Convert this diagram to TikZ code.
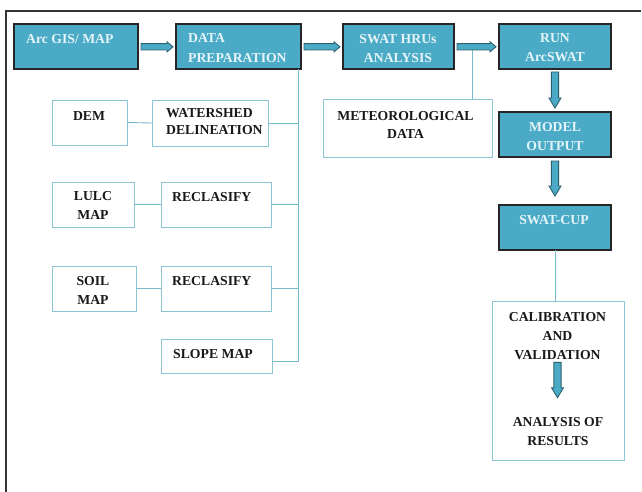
\documentclass[tikz,border=0pt]{standalone}
\usepackage{fontspec}
\setmainfont{Liberation Serif}
\usetikzlibrary{calc}
\definecolor{tealfill}{HTML}{4BABC6}
\definecolor{tealtext}{HTML}{E4F4F8}
\definecolor{boxline}{HTML}{8CC6D4}
\definecolor{connline}{HTML}{76BACB}
\definecolor{arrline}{HTML}{2E5F6E}
\definecolor{framecol}{HTML}{333333}
\tikzset{
  fbox/.style={draw=black!85, line width=1.2pt, fill=tealfill, inner sep=0pt, outer sep=0pt},
  wbox/.style={draw=boxline, line width=0.9pt, fill=white, inner sep=0pt, outer sep=0pt},
  lbl/.style={font=\fontsize{13.7}{19}\selectfont\bfseries, inner sep=0pt, align=center, text=black!90},
  wlbl/.style={lbl, text=tealtext},
  conn/.style={draw=connline, line width=0.9pt},
  barrow/.style={draw=arrline, line width=0.9pt, fill=tealfill, line join=miter},
  frameline/.style={draw=framecol, line width=1.8pt}
}
% horizontal block arrow between two nodes
\newcommand\harr[2]{%
  \path[barrow] ($(#1.east)+(3,-2.9)$) -- ($(#2.west)+(-9,-2.9)$) -- ($(#2.west)+(-9,-4.7)$)
    -- ($(#2.west)+(-3,0.3)$) -- ($(#2.west)+(-9,5.3)$) -- ($(#2.west)+(-9,3.5)$)
    -- ($(#1.east)+(3,3.5)$) -- cycle;}
% vertical block arrow: start node, start gap, end node, end gap
\newcommand\varr[4]{%
  \coordinate (vs) at ($(#1.south)+(0,#2)$);
  \coordinate (ve) at ($(vs |- #3.north)+(0,-#4)$);
  \path[barrow] ($(vs)+(-3.6,0)$) -- ($(ve)+(-3.6,-10)$) -- ($(ve)+(-6,-10)$) -- (ve)
    -- ($(ve)+(6,-10)$) -- ($(ve)+(3.6,-10)$) -- ($(vs)+(3.6,0)$) -- cycle;}
\begin{document}
\begin{tikzpicture}[x=1pt,y=-1pt]
\useasboundingbox (0,0) rectangle (642,492);
\path[fill=white] (0,0) rectangle (642,492);
\draw[frameline] (6,492) -- (6,11) -- (641,11);

% top row
\node[fbox, minimum width=124pt, minimum height=45pt] (arc) at (76,46.5) {};
\node[fbox, minimum width=125pt, minimum height=45pt] (dp) at (238.5,46.5) {};
\node[fbox, minimum width=111pt, minimum height=45pt] (hru) at (398.5,46.5) {};
\node[fbox, minimum width=112pt, minimum height=45pt] (run) at (555,46.5) {};
\node[fbox, minimum width=112pt, minimum height=45pt] (mod) at (555,134.5) {};
\node[wbox, minimum width=169pt, minimum height=58pt] (met) at (407.5,128) {};
\node[fbox, minimum width=112pt, minimum height=45pt] (cup) at (555,227.5) {};
\node[wbox, minimum width=132pt, minimum height=159pt] (cal) at (558,380.5) {};

% left column
\node[wbox, minimum width=75pt, minimum height=45pt] (dem) at (89.5,122.5) {};
\node[wbox, minimum width=116pt, minimum height=46pt] (ws) at (210,123) {};
\node[wbox, minimum width=82pt, minimum height=45pt] (lulc) at (93,204.5) {};
\node[wbox, minimum width=110pt, minimum height=45pt] (rc1) at (216,204.5) {};
\node[wbox, minimum width=84pt, minimum height=45pt] (soil) at (94,288.5) {};
\node[wbox, minimum width=110pt, minimum height=45pt] (rc2) at (216,288.5) {};
\node[wbox, minimum width=111pt, minimum height=34pt] (slope) at (216.5,356) {};

% labels
\node[wlbl, anchor=west] (arct) at (26,39) {Arc GIS/ MAP};
\node[wlbl, anchor=west, align=left, font=\fontsize{13.7}{20}\selectfont\bfseries] (dpt) at (188,48) {DATA\\PREPARATION};
\node[wlbl] (hrut) at (398,48.5) {SWAT HRUs\\ANALYSIS};
\node[wlbl] (runt) at (555,48) {RUN\\ArcSWAT};
\node[wlbl] (modt) at (555,136.5) {MODEL\\OUTPUT};
\node[lbl, font=\fontsize{13.7}{18}\selectfont\bfseries] (mett) at (405.5,125) {METEOROLOGICAL\\DATA};
\node[wlbl] (cupt) at (554,220) {SWAT-CUP};
\node[lbl] (calt) at (557.5,336.5) {CALIBRATION\\AND\\VALIDATION};
\node[lbl] (anat) at (558,432) {ANALYSIS OF\\RESULTS};
\node[lbl] (demt) at (89,116) {DEM};
\node[lbl, anchor=west, align=left, font=\fontsize{13.7}{17}\selectfont\bfseries] (wst) at (166,121.5) {WATERSHED\\DELINEATION};
\node[lbl] (lulct) at (93,205) {LULC\\MAP};
\node[lbl, anchor=west] (rc1t) at (172,197) {RECLASIFY};
\node[lbl] (soilt) at (93,290) {SOIL\\MAP};
\node[lbl, anchor=west] (rc2t) at (172,281) {RECLASIFY};
\node[lbl] (slopet) at (213,354.5) {SLOPE MAP};

% connectors of the left column
\coordinate (t0) at ($(dp.south east)+(-3,0)$);
\coordinate (t1) at ($(t0 |- slope.east)+(0,5)$);
\draw[conn] (t0) -- (t1) -- ($(slope.east)+(0,5)$);
\draw[conn] (dem.east) -- (ws.west);
\draw[conn] (lulc.east) -- (rc1.west);
\draw[conn] (soil.east) -- (rc2.west);
\draw[conn] (ws.east) -- (ws.east -| t0);
\draw[conn] (rc1.east) -- (rc1.east -| t0);
\draw[conn] (rc2.east) -- (rc2.east -| t0);

% meteorological connector
\coordinate (m) at ($(hru.east)+(18,1.5)$);
\draw[conn] (m) -- (m |- met.north);
% swat-cup connector
\draw[conn] (cup.south) -- (cup.south |- cal.north);

% block arrows
\harr{arc}{dp}
\harr{dp}{hru}
\harr{hru}{run}
\varr{run}{3}{mod}{4}
\varr{mod}{4}{cup}{9}
\varr{calt}{2}{anat}{20}
\end{tikzpicture}
\end{document}
